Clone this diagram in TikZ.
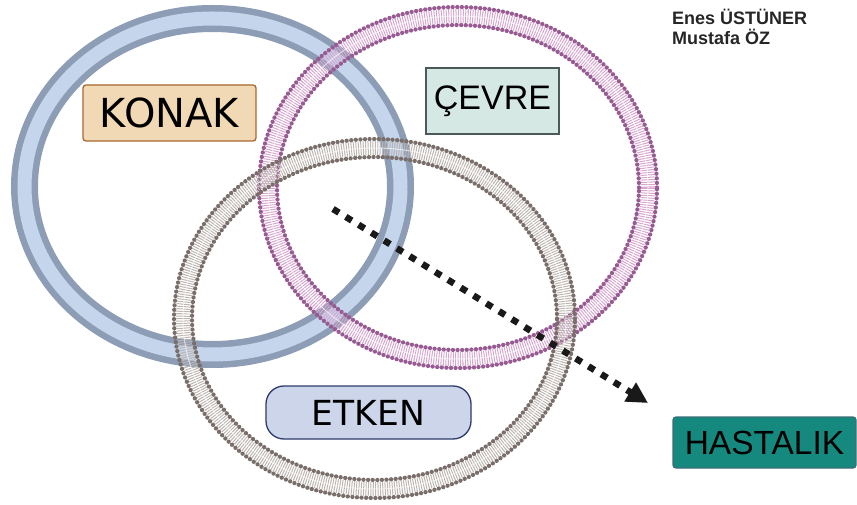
\documentclass[tikz,border=0pt]{standalone}
\usepackage{fontspec}
\setmainfont{Liberation Sans}
\newfontfamily\dvs{DejaVu Sans}
\newfontfamily\lib{Liberation Sans}
\usetikzlibrary{arrows.meta}
\definecolor{bluedark}{HTML}{8D9DB6}
\definecolor{bluelight}{HTML}{C4D5EC}
\definecolor{purpdot}{HTML}{985A92}
\definecolor{purptail}{HTML}{D6A6CE}
\definecolor{browndot}{HTML}{7A6E6A}
\definecolor{browntail}{HTML}{BDB5B1}
\definecolor{konakfill}{HTML}{F2D9B5}
\definecolor{konakdraw}{HTML}{A8682E}
\definecolor{cevrefill}{HTML}{D6E8E4}
\definecolor{cevredraw}{HTML}{4A5A58}
\definecolor{etkenfill}{HTML}{CDD5EA}
\definecolor{etkendraw}{HTML}{2E3A6A}
\definecolor{hastfill}{HTML}{16897F}
\definecolor{hastdraw}{HTML}{3A6E78}
\tikzset{
  tails/.style={line width=14pt, dash pattern=on 1pt off 1.4pt},
  heads/.style={line width=4.3pt, dash pattern=on 0pt off 4.6pt, line cap=round},
  midgap/.style={line width=1pt, white, opacity=0.6},
  labelbox/.style={draw, line width=1.3pt, text=black, inner sep=0pt},
}
\begin{document}
\begin{tikzpicture}[x=1pt,y=-1pt]
\useasboundingbox (0,0) rectangle (857,505);
% KONAK ring (blue)
\draw[bluedark, line width=27pt] (212.5,186.5) ellipse [x radius=188pt, y radius=168pt];
\draw[bluelight, line width=14pt] (212.5,186.5) ellipse [x radius=188pt, y radius=168pt];
% CEVRE membrane (purple)
\draw[purptail, tails] (458,187.5) ellipse [x radius=190pt, y radius=171.5pt];
\draw[midgap] (458,187.5) ellipse [x radius=190pt, y radius=171.5pt];
\draw[purpdot, heads] (458,187.5) ellipse [x radius=199pt, y radius=180.5pt];
\draw[purpdot, heads] (458,187.5) ellipse [x radius=181pt, y radius=162.5pt];
% ETKEN membrane (brown)
\draw[browntail, tails] (374.5,318.5) ellipse [x radius=191.5pt, y radius=170.5pt];
\draw[midgap] (374.5,318.5) ellipse [x radius=191.5pt, y radius=170.5pt];
\draw[browndot, heads] (374.5,318.5) ellipse [x radius=200.5pt, y radius=179.5pt];
\draw[browndot, heads] (374.5,318.5) ellipse [x radius=182.5pt, y radius=161.5pt];
% labels
\node[labelbox, draw=konakdraw, fill=konakfill, rounded corners=3pt,
  minimum width=173pt, minimum height=56pt, font=\dvs\fontsize{40}{44}\selectfont]
  (konak) at (169.5,113) {KONAK};
\node[labelbox, draw=cevredraw, fill=cevrefill,
  minimum width=133pt, minimum height=66pt, font=\lib\fontsize{34}{40}\selectfont]
  (cevre) at (492.5,101) {ÇEVRE};
\node[labelbox, draw=etkendraw, fill=etkenfill, rounded corners=18pt,
  minimum width=205pt, minimum height=53pt, font=\dvs\fontsize{34.5}{40}\selectfont]
  (etken) at (368.5,412.5) {ETKEN};
\node[labelbox, draw=hastdraw, fill=hastfill, rounded corners=3pt,
  minimum width=183pt, minimum height=51pt, font=\lib\fontsize{33.5}{38}\selectfont]
  (hast) at (764.5,442.5) {HASTALIK};
\node[anchor=north west, align=left, inner sep=0pt,
  font=\lib\bfseries\fontsize{18}{20}\selectfont, text=black!85]
  (authors) at (672,9) {Enes ÜSTÜNER\\Mustafa ÖZ};
% arrow
\coordinate (arrs) at (333,209);
\coordinate (arrt) at (648,403);
\draw[black!90, line width=6.5pt, dash pattern=on 7pt off 8pt,
  -{Triangle[length=21pt,width=21pt]}] (arrs) -- (arrt);
\end{tikzpicture}
\end{document}
